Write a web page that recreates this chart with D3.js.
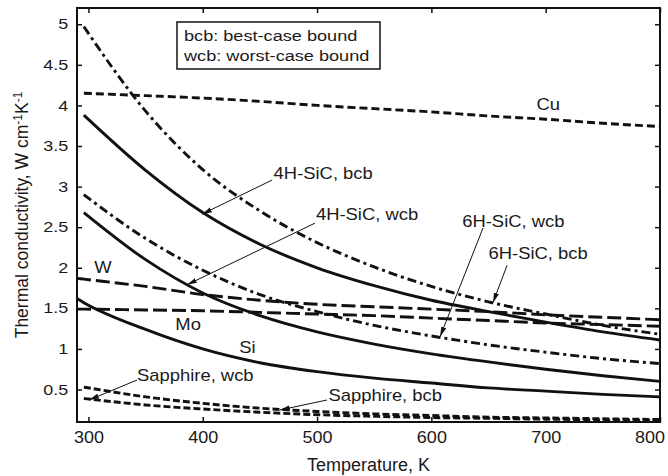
<!DOCTYPE html>
<html>
<head>
<meta charset="utf-8">
<script src="https://cdn.jsdelivr.net/npm/d3@7"></script>
<style>
    body { margin: 0; background: #fff; }
    svg text { font-family: "Liberation Sans", Arial, sans-serif; fill: #1a1a1a; }
</style>
</head>
<body>
<svg id="main" width="668" height="476"></svg>
<script>
var temps = [290, 296, 350, 400, 450, 500, 550, 600, 650, 700, 750, 800];

var cu          = [null, 4.15, 4.12, 4.09, 4.05, 4.00, 3.96, 3.92, 3.87, 3.83, 3.78, 3.74];
var sic4hBcb    = [null, 3.88, 3.20, 2.68, 2.29, 2.00, 1.78, 1.60, 1.46, 1.33, 1.21, 1.11];
var sic6hBcb    = [null, 4.97, 3.93, 3.21, 2.70, 2.31, 2.01, 1.77, 1.58, 1.43, 1.29, 1.18];
var sic4hWcb    = [null, 2.68, 2.10, 1.69, 1.41, 1.21, 1.06, 0.94, 0.84, 0.75, 0.67, 0.60];
var sic6hWcb    = [null, 2.90, 2.36, 1.97, 1.67, 1.46, 1.29, 1.16, 1.05, 0.96, 0.88, 0.82];
var si          = [1.62, 1.57, 1.24, 1.00, 0.83, 0.72, 0.64, 0.58, 0.52, 0.48, 0.44, 0.41];
var tungsten    = [1.87, 1.86, 1.77, 1.67, 1.60, 1.55, 1.52, 1.49, 1.46, 1.42, 1.39, 1.36];
var molybdenum  = [1.49, 1.49, 1.48, 1.47, 1.45, 1.43, 1.41, 1.38, 1.35, 1.32, 1.30, 1.28];
var sapphireBcb = [null, 0.53, 0.41, 0.33, 0.27, 0.23, 0.20, 0.18, 0.16, 0.15, 0.14, 0.13];
var sapphireWcb = [null, 0.39, 0.31, 0.26, 0.22, 0.19, 0.17, 0.155, 0.145, 0.135, 0.125, 0.115];

var xTicks = [300, 400, 500, 600, 700, 800];
var yTicks = [0.5, 1, 1.5, 2, 2.5, 3, 3.5, 4, 4.5, 5];
var yTickLabels = ["0.5", "1", "1.5", "2", "2.5", "3", "3.5", "4", "4.5", "5"];

var legendLines = ["bcb: best-case bound", "wcb: worst-case bound"];

// label text, where it sits (T, k), and the arrow (from -> to) if any
var labels = [
    {text: "Cu",             at: [692, 3.94]},
    {text: "4H-SiC, bcb",    at: [462, 3.09], from: [460.6, 3.08], to: [399.3, 2.66]},
    {text: "4H-SiC, wcb",    at: [499, 2.59], from: [498.2, 2.55], to: [386.2, 1.79]},
    {text: "6H-SiC, wcb",    at: [627, 2.50], from: [645.2, 2.49], to: [607.6, 1.15]},
    {text: "6H-SiC, bcb",    at: [650, 2.11], from: [666.2, 2.03], to: [653.9, 1.57]},
    {text: "W",              at: [305, 1.94]},
    {text: "Mo",             at: [376, 1.23]},
    {text: "Si",             at: [432, 0.95]},
    {text: "Sapphire, wcb",  at: [342.5, 0.605], from: [342.5, 0.617], to: [300.5, 0.371]},
    {text: "Sapphire, bcb",  at: [510, 0.36], from: [508.7, 0.371], to: [467.6, 0.248]}
];

var series = [
    {values: cu,          dash: "8,4"},
    {values: sic4hBcb,    dash: null},
    {values: sic6hBcb,    dash: "9,4,3,4"},
    {values: sic4hWcb,    dash: null},
    {values: sic6hWcb,    dash: "9,4,3,4"},
    {values: si,          dash: null},
    {values: tungsten,    dash: "14,5"},
    {values: molybdenum,  dash: "14,5"},
    {values: sapphireBcb, dash: "7,3"},
    {values: sapphireWcb, dash: "7,3"}
];

var svg = d3.select("svg#main");
var margin = {top: 8, right: 8, bottom: 54, left: 77};
var W = +svg.attr("width"), H = +svg.attr("height");

var x = d3.scaleLinear().domain([290, 800]).range([margin.left, W - margin.right]);
var y = d3.scaleLinear().domain([0.1, 5.2]).range([H - margin.bottom, margin.top]);

svg.append("clipPath").attr("id", "plot")
    .append("rect")
    .attr("x", x.range()[0]).attr("y", y.range()[1])
    .attr("width", x.range()[1] - x.range()[0])
    .attr("height", y.range()[0] - y.range()[1]);

svg.append("defs").append("marker")
    .attr("id", "head")
    .attr("viewBox", "0 -3 10 6")
    .attr("refX", 10).attr("refY", 0)
    .attr("markerUnits", "userSpaceOnUse")
    .attr("markerWidth", 10).attr("markerHeight", 6)
    .attr("orient", "auto")
    .append("path").attr("d", "M0,-2.6L10,0L0,2.6Z").attr("fill", "#111");

// curves
var line = d3.line()
    .defined(function(d) { return d[1] !== null; })
    .x(function(d) { return x(d[0]); })
    .y(function(d) { return y(d[1]); })
    .curve(d3.curveMonotoneX);

svg.append("g").attr("clip-path", "url(#plot)")
    .selectAll("path").data(series)
    .join("path")
    .attr("d", function(s) { return line(temps.map(function(t, i) { return [t, s.values[i]]; })); })
    .attr("fill", "none")
    .attr("stroke", "#111")
    .attr("stroke-width", 2.9)
    .attr("stroke-dasharray", function(s) { return s.dash; });

// axes, ticks pointing inwards on all four sides
var gx = svg.append("g").attr("transform", "translate(0," + y.range()[0] + ")")
    .call(d3.axisBottom(x).tickValues(xTicks).tickSize(-5).tickPadding(9).tickFormat(d3.format("d")));
gx.selectAll("text").attr("font-size", 17).attr("transform", "scale(1.06,1)")
    .attr("dx", function(d) { return d === 800 ? -10 : 0; });

var gy = svg.append("g").attr("transform", "translate(" + x.range()[0] + ",0)")
    .call(d3.axisLeft(y).tickValues(yTicks).tickSize(-5).tickPadding(7)
        .tickFormat(function(d, i) { return yTickLabels[i]; }));
gy.selectAll("text").attr("font-size", 14.5).attr("transform", "scale(1.24,1)");

svg.append("g").attr("transform", "translate(0," + y.range()[1] + ")")
    .call(d3.axisTop(x).tickValues(xTicks).tickSize(-5).tickFormat(""));
svg.append("g").attr("transform", "translate(" + x.range()[1] + ",0)")
    .call(d3.axisRight(y).tickValues(yTicks).tickSize(-5).tickFormat(""));

svg.selectAll(".domain").remove();
svg.selectAll(".tick line").attr("stroke", "#111").attr("stroke-width", 1.5);

svg.append("rect")
    .attr("x", x.range()[0]).attr("y", y.range()[1])
    .attr("width", x.range()[1] - x.range()[0])
    .attr("height", y.range()[0] - y.range()[1])
    .attr("fill", "none").attr("stroke", "#111").attr("stroke-width", 2);

// axis titles
svg.append("text")
    .attr("x", (x.range()[0] + x.range()[1]) / 2).attr("y", 471)
    .attr("text-anchor", "middle").attr("font-size", 18)
    .text("Temperature, K");

var yt = svg.append("text")
    .attr("transform", "translate(28," + ((y.range()[0] + y.range()[1]) / 2) + ") rotate(-90)")
    .attr("text-anchor", "middle").attr("font-size", 17.5);
yt.append("tspan").text("Thermal conductivity, W cm");
yt.append("tspan").attr("dy", -6).attr("font-size", 12).text("-1");
yt.append("tspan").attr("dy", 6).text("K");
yt.append("tspan").attr("dy", -6).attr("font-size", 12).text("-1");

// legend box
var lg = svg.append("g").attr("transform", "translate(177,22)");
lg.append("rect").attr("width", 203).attr("height", 47)
    .attr("fill", "#fff").attr("stroke", "#111").attr("stroke-width", 1.5);
lg.selectAll("text").data(legendLines).join("text")
    .attr("transform", function(d, i) { return "translate(7," + (18.5 + i * 20.5) + ") scale(1.17,1)"; })
    .attr("font-size", 15.5)
    .text(function(d) { return d; });

// labels and arrows
svg.append("g").selectAll("line").data(labels.filter(function(l) { return l.from; }))
    .join("line")
    .attr("x1", function(l) { return x(l.from[0]); })
    .attr("y1", function(l) { return y(l.from[1]); })
    .attr("x2", function(l) { return x(l.to[0]); })
    .attr("y2", function(l) { return y(l.to[1]); })
    .attr("stroke", "#111").attr("stroke-width", 1)
    .attr("marker-end", "url(#head)");

svg.append("g").selectAll("text").data(labels)
    .join("text")
    .attr("transform", function(l) { return "translate(" + x(l.at[0]) + "," + y(l.at[1]) + ") scale(1.15,1)"; })
    .attr("font-size", 16)
    .text(function(l) { return l.text; });
</script>
</body>
</html>
